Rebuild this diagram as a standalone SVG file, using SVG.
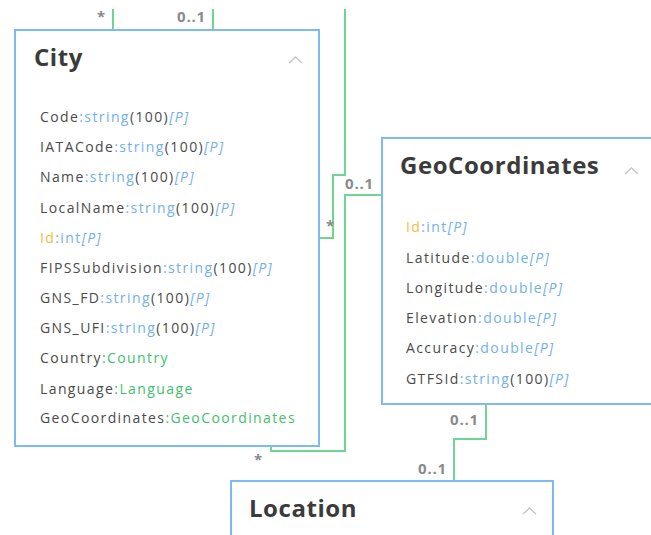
<svg xmlns="http://www.w3.org/2000/svg" width="651" height="535" viewBox="0 0 651 535">
  <style>
    .box { fill: #ffffff; stroke: #7dbaf3; stroke-width: 2; }
    .title { font-family: "Open Sans", "Noto Sans", sans-serif; font-size: 24px; font-weight: bold; fill: #3b3b3b; letter-spacing: 0.55px; }
    .chev { fill: none; stroke: #c4c4c4; stroke-width: 1.3; }
    .attr { font-family: "Open Sans", "Noto Sans", sans-serif; font-size: 14px; fill: #4a4a4a; letter-spacing: 1.4px; }
    .t { fill: #72b0ee; }
    .p { fill: #72b0ee; font-style: italic; }
    .k { fill: #f5bc3e; }
    .r { fill: #3fbf6c; }
    .conn { fill: none; stroke: #6fd692; stroke-width: 2; }
    .mult { font-family: "Open Sans", "Noto Sans", sans-serif; font-size: 15px; font-weight: bold; fill: #8a8a8a; letter-spacing: 0.8px; }
  </style>

  <!-- associations -->
  <g id="connectors">
    <path class="conn" d="M113 9 V30"/>
    <path class="conn" d="M213 9 V30"/>
    <path class="conn" d="M345 9 V175 H333 V238 H319"/>
    <path class="conn" d="M382 195 H345 V451 H271 V446"/>
    <path class="conn" d="M486 404 V439 H454 V481"/>
    <text class="mult" x="97" y="22">*</text>
    <text class="mult" x="177" y="22">0..1</text>
    <text class="mult" x="345" y="189">0..1</text>
    <text class="mult" x="326" y="231">*</text>
    <text class="mult" x="254" y="465">*</text>
    <text class="mult" x="450" y="425">0..1</text>
    <text class="mult" x="418" y="474">0..1</text>
  </g>

  <!-- City -->
  <g id="city">
    <rect class="box" x="15" y="30" width="304" height="416"/>
    <text class="title" x="34" y="66">City</text>
    <path class="chev" d="M289 63 L295.5 57 L302 63"/>
    <text class="attr" x="40" y="122">Code<tspan class="t">:string</tspan>(100)<tspan class="p">[P]</tspan></text>
    <text class="attr" x="40" y="152">IATACode<tspan class="t">:string</tspan>(100)<tspan class="p">[P]</tspan></text>
    <text class="attr" x="40" y="182">Name<tspan class="t">:string</tspan>(100)<tspan class="p">[P]</tspan></text>
    <text class="attr" x="40" y="213">LocalName<tspan class="t">:string</tspan>(100)<tspan class="p">[P]</tspan></text>
    <text class="attr" x="40" y="243"><tspan class="k">Id</tspan><tspan class="t">:int</tspan><tspan class="p">[P]</tspan></text>
    <text class="attr" x="40" y="273">FIPSSubdivision<tspan class="t">:string</tspan>(100)<tspan class="p">[P]</tspan></text>
    <text class="attr" x="40" y="303">GNS_FD<tspan class="t">:string</tspan>(100)<tspan class="p">[P]</tspan></text>
    <text class="attr" x="40" y="333">GNS_UFI<tspan class="t">:string</tspan>(100)<tspan class="p">[P]</tspan></text>
    <text class="attr" x="40" y="363">Country<tspan class="r">:Country</tspan></text>
    <text class="attr" x="40" y="394">Language<tspan class="r">:Language</tspan></text>
    <text class="attr" x="40" y="423">GeoCoordinates<tspan class="r">:GeoCoordinates</tspan></text>
  </g>

  <!-- GeoCoordinates -->
  <g id="geocoordinates">
    <rect class="box" x="382" y="138" width="280" height="266"/>
    <text class="title" x="400" y="174">GeoCoordinates</text>
    <path class="chev" d="M625 174 L631.5 168 L638 174"/>
    <text class="attr" x="406" y="232"><tspan class="k">Id</tspan><tspan class="t">:int</tspan><tspan class="p">[P]</tspan></text>
    <text class="attr" x="406" y="263">Latitude<tspan class="t">:double</tspan><tspan class="p">[P]</tspan></text>
    <text class="attr" x="406" y="293">Longitude<tspan class="t">:double</tspan><tspan class="p">[P]</tspan></text>
    <text class="attr" x="406" y="323">Elevation<tspan class="t">:double</tspan><tspan class="p">[P]</tspan></text>
    <text class="attr" x="406" y="353">Accuracy<tspan class="t">:double</tspan><tspan class="p">[P]</tspan></text>
    <text class="attr" x="406" y="384">GTFSId<tspan class="t">:string</tspan>(100)<tspan class="p">[P]</tspan></text>
  </g>

  <!-- Location -->
  <g id="location">
    <rect class="box" x="231" y="481" width="322" height="70"/>
    <text class="title" x="249" y="517">Location</text>
    <path class="chev" d="M523 514 L529.5 508 L536 514"/>
  </g>
</svg>
